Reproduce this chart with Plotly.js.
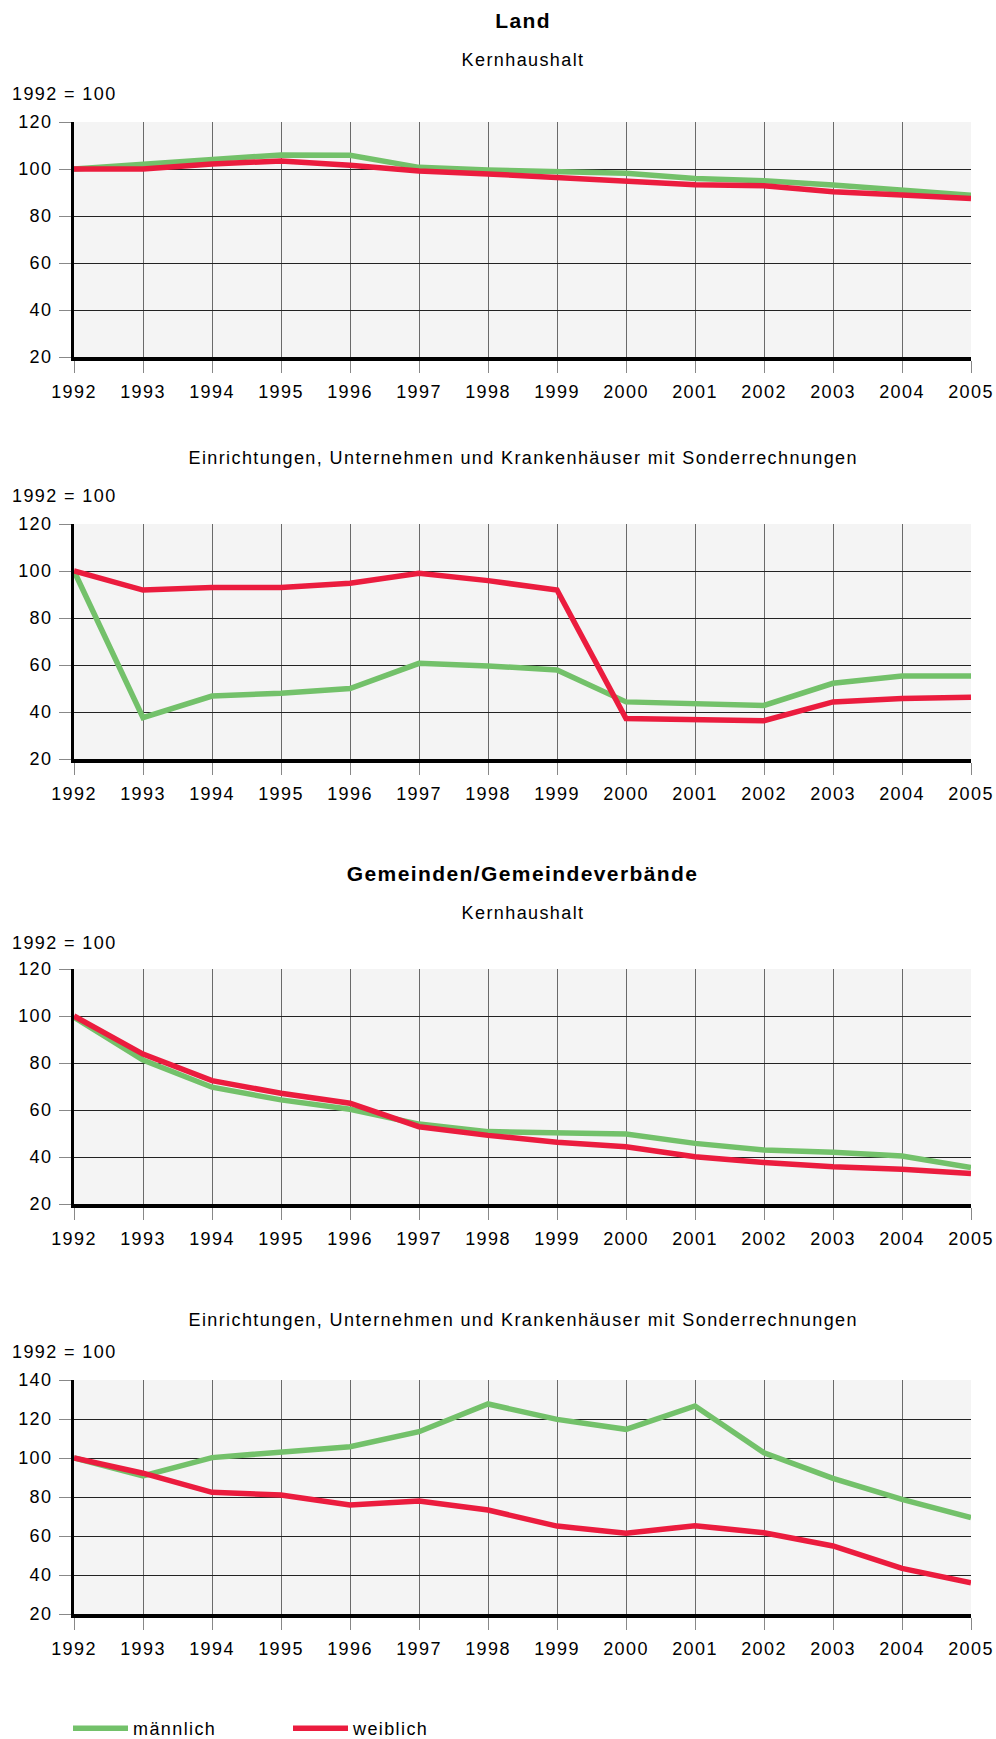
<!DOCTYPE html>
<html>
<head>
<meta charset="utf-8">
<script src="https://cdn.plot.ly/plotly-3.0.1.min.js"></script>
<style>
html, body { margin: 0; padding: 0; background: #fff; overflow: hidden; }
#chart { width: 996px; height: 1739px; }
#chart svg text { letter-spacing: 1.4px; }
</style>
</head>
<body>
<div id="chart"></div>
<script>
// ---- data ----
const years = [1992, 1993, 1994, 1995, 1996, 1997, 1998, 1999, 2000, 2001, 2002, 2003, 2004, 2005];

// Land – Kernhaushalt
const landKernMaennlich = [100, 102.1, 104.1, 106, 105.8, 100.7, 99.6, 98.9, 98.2, 96.0, 95.0, 93.2, 91.1, 88.8];
const landKernWeiblich  = [100, 100, 102.1, 103.4, 101.6, 99.1, 97.9, 96.3, 94.6, 93.3, 92.9, 90.3, 88.9, 87.4];

// Land – Einrichtungen, Unternehmen und Krankenhäuser mit Sonderrechnungen
const landEinrMaennlich = [100, 37.6, 46.8, 48.0, 50.0, 60.7, 59.6, 57.9, 44.3, 43.4, 42.8, 52.2, 55.3, 55.3];
const landEinrWeiblich  = [100, 91.9, 93.0, 93.0, 94.8, 99.0, 95.9, 91.9, 37.2, 36.9, 36.3, 44.3, 45.7, 46.3];

// Gemeinden/Gemeindeverbände – Kernhaushalt
const gemKernMaennlich = [99.5, 81.3, 69.7, 64.3, 60.3, 54.0, 50.8, 50.4, 49.8, 45.8, 43.0, 42.0, 40.4, 35.5];
const gemKernWeiblich  = [100, 83.8, 72.5, 67.1, 62.9, 52.9, 49.2, 46.3, 44.4, 40.1, 37.7, 35.9, 34.8, 33.0];

// Gemeinden/Gemeindeverbände – Einrichtungen, Unternehmen und Krankenhäuser mit Sonderrechnungen
const gemEinrMaennlich = [100, 90.8, 100.2, 102.9, 105.8, 113.5, 127.7, 119.8, 114.7, 126.7, 102.7, 89.6, 78.8, 69.4];
const gemEinrWeiblich  = [100, 92.2, 82.4, 81.0, 75.9, 77.9, 73.3, 65.1, 61.4, 65.3, 61.7, 54.9, 43.4, 36.0];

const seriesNames = ['männlich', 'weiblich'];
const mainTitles = ['Land', 'Gemeinden/Gemeindeverbände'];
const subTitles = ['Kernhaushalt', 'Einrichtungen, Unternehmen und Krankenhäuser mit Sonderrechnungen'];
const unitLabel = '1992 = 100';
const yTicks123 = [20, 40, 60, 80, 100, 120];
const yTicks4 = [20, 40, 60, 80, 100, 120, 140];

// ---- styling ----
const W = 996, H = 1739;
const GREEN = 'rgb(115,193,106)';
const RED = 'rgb(235,28,62)';
const FONT = 'Liberation Sans, Arial, sans-serif';
const px = (y) => 1 - y / H;

// panel geometry (pixels, top-down)
const panels = [
  {top: 122, bottom: 357, m: landKernMaennlich, w: landKernWeiblich, ticks: yTicks123, range: [20, 120]},
  {top: 524, bottom: 759, m: landEinrMaennlich, w: landEinrWeiblich, ticks: yTicks123, range: [20, 120]},
  {top: 969, bottom: 1204, m: gemKernMaennlich, w: gemKernWeiblich, ticks: yTicks123, range: [20, 120]},
  {top: 1380, bottom: 1614, m: gemEinrMaennlich, w: gemEinrWeiblich, ticks: yTicks4, range: [20, 140]}
];
const xLeft = 74, xRight = 971;

const traces = [];
const layout = {
  width: W, height: H,
  margin: {l: 0, r: 0, t: 0, b: 0, autoexpand: false},
  paper_bgcolor: '#ffffff',
  plot_bgcolor: '#f4f4f4',
  font: {family: FONT, size: 18, color: '#000'},
  showlegend: true,
  legend: {
    orientation: 'h', xref: 'paper', yref: 'paper',
    x: 68 / W, xanchor: 'left', y: -8 / H, yanchor: 'bottom',
    entrywidth: 150, entrywidthmode: 'pixels', itemwidth: 55,
    font: {family: FONT, size: 18, color: '#000'}, bgcolor: 'rgba(0,0,0,0)'
  },
  annotations: [],
  hovermode: false
};

panels.forEach((p, i) => {
  const n = i + 1;
  const xa = n === 1 ? 'x' : 'x' + n;
  const ya = n === 1 ? 'y' : 'y' + n;
  traces.push({
    x: years, y: p.m, name: seriesNames[0], type: 'scatter', mode: 'lines',
    line: {color: GREEN, width: 5.5}, xaxis: xa, yaxis: ya, showlegend: i === 0, legendrank: 1
  });
  traces.push({
    x: years, y: p.w, name: seriesNames[1], type: 'scatter', mode: 'lines',
    line: {color: RED, width: 5.5}, xaxis: xa, yaxis: ya, showlegend: i === 0, legendrank: 2
  });
  layout['xaxis' + (n === 1 ? '' : n)] = {
    domain: [xLeft / W, xRight / W], anchor: ya,
    range: [1992, 2005], tickmode: 'array', tickvals: years, ticktext: years.map(String),
    showgrid: true, gridcolor: '#6a6a6a', gridwidth: 1,
    showline: true, linecolor: '#000', linewidth: 4,
    ticks: 'outside', ticklen: 12, tickcolor: '#888', tickwidth: 1,
    ticklabelstandoff: 3,
    tickfont: {family: FONT, size: 18, color: '#000'},
    zeroline: false, fixedrange: true
  };
  layout['yaxis' + (n === 1 ? '' : n)] = {
    domain: [px(p.bottom), px(p.top)], anchor: xa,
    range: p.range, tickmode: 'array', tickvals: p.ticks,
    showgrid: true, gridcolor: '#222', gridwidth: 1,
    showline: true, linecolor: '#000', linewidth: 3,
    ticks: 'outside', ticklen: 12, tickcolor: '#888', tickwidth: 1,
    ticklabelstandoff: 3,
    tickfont: {family: FONT, size: 18, color: '#000'},
    zeroline: false, fixedrange: true
  };
});

// titles
const cx = (xLeft + xRight) / 2 / W;
const ann = (text, y, opts) => Object.assign({
  text: text, xref: 'paper', yref: 'paper', x: cx, y: px(y),
  xanchor: 'center', yanchor: 'middle', showarrow: false,
  font: {family: FONT, size: 18, color: '#000'}
}, opts || {});
layout.annotations.push(ann('<b>' + mainTitles[0] + '</b>', 20, {font: {family: FONT, size: 21, color: '#000'}}));
layout.annotations.push(ann(subTitles[0], 60));
layout.annotations.push(ann(unitLabel, 94, {x: 17 / W, xanchor: 'left'}));
layout.annotations.push(ann(subTitles[1], 458));
layout.annotations.push(ann(unitLabel, 496, {x: 17 / W, xanchor: 'left'}));
layout.annotations.push(ann('<b>' + mainTitles[1] + '</b>', 874, {font: {family: FONT, size: 21, color: '#000'}}));
layout.annotations.push(ann(subTitles[0], 913));
layout.annotations.push(ann(unitLabel, 943, {x: 17 / W, xanchor: 'left'}));
layout.annotations.push(ann(subTitles[1], 1320));
layout.annotations.push(ann(unitLabel, 1352, {x: 17 / W, xanchor: 'left'}));

Plotly.newPlot('chart', traces, layout, {displayModeBar: false, staticPlot: true});
</script>
</body>
</html>
